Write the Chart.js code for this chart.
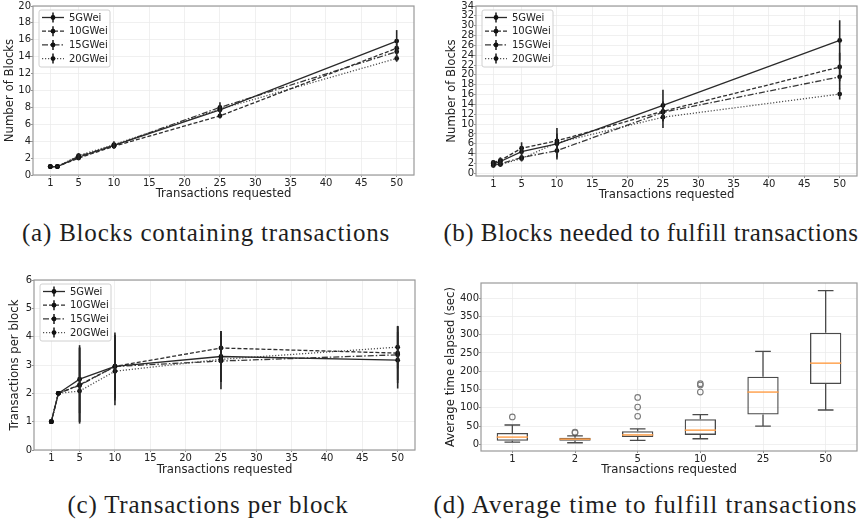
<!DOCTYPE html>
<html>
<head>
<meta charset="utf-8">
<script src="https://cdn.jsdelivr.net/npm/chart.js@4.4.0/dist/chart.umd.min.js"></script>
<style>
  body { margin: 0; background: #fff; width: 863px; height: 521px; overflow: hidden; position: relative; }
  canvas { position: absolute; }
  .cap { position: absolute; font-family: "Liberation Serif", serif; font-size: 25px; color: #1e1e1e;
         white-space: nowrap; text-align: center; line-height: 30px; letter-spacing: 0.8px; }
</style>
</head>
<body>
<canvas id="chartA" width="430" height="202" style="left:0;top:0"></canvas>
<canvas id="chartB" width="433" height="202" style="left:430px;top:0"></canvas>
<canvas id="chartC" width="430" height="216" style="left:0;top:262px"></canvas>
<canvas id="chartD" width="433" height="216" style="left:430px;top:262px"></canvas>
<div class="cap" style="left:6px;width:400px;top:218px">(a) Blocks containing transactions</div>
<div class="cap" style="left:440px;width:422px;top:218px;letter-spacing:0.45px">(b) Blocks needed to fulfill transactions</div>
<div class="cap" style="left:8px;width:400px;top:490px">(c) Transactions per block</div>
<div class="cap" style="left:433px;width:425px;top:490px;letter-spacing:1.05px">(d) Average time to fulfill transactions</div>
<script>
// Gas price experiments - four panels

const xValues = [1, 2, 5, 10, 25, 50];
const seriesNames = ['5GWei', '10GWei', '15GWei', '20GWei'];
const xTicks = [1, 5, 10, 15, 20, 25, 30, 35, 40, 45, 50];

// (a) blocks containing transactions
const containing5 = [1, 1, 2.1, 3.5, 7.7, 15.85];
const containing10 = [1, 1, 2.0, 3.4, 7.0, 15.0];
const containing15 = [1, 1, 2.2, 3.5, 8.0, 14.6];
const containing20 = [1, 1, 2.3, 3.6, 7.8, 13.8];
const containing5Err = [0.05, 0.05, 0.3, 0.3, 0.5, 1.3];
const containing10Err = [0.05, 0.05, 0.2, 0.3, 0.3, 0.6];
const containing15Err = [0.05, 0.05, 0.3, 0.3, 0.6, 0.5];
const containing20Err = [0.05, 0.05, 0.3, 0.4, 0.5, 0.4];
const containingTicks = [0, 2, 4, 6, 8, 10, 12, 14, 16, 18, 20];

// (b) blocks needed to fulfill transactions
const needed5 = [1.9, 2.4, 4.4, 6.0, 13.8, 27.0];
const needed10 = [2.2, 2.6, 5.1, 6.6, 12.6, 21.6];
const needed15 = [1.6, 1.9, 3.2, 4.6, 12.4, 19.6];
const needed20 = [2.0, 1.8, 3.0, 6.2, 11.4, 16.1];
const needed5Err = [0.7, 0.8, 1.0, 3.2, 3.2, 4.1];
const needed10Err = [0.5, 0.6, 1.2, 1.5, 2.0, 2.9];
const needed15Err = [0.4, 0.5, 0.6, 1.4, 1.5, 2.5];
const needed20Err = [0.4, 0.5, 0.6, 1.2, 2.2, 1.1];
const neededTicks = [0, 2, 4, 6, 8, 10, 12, 14, 16, 18, 20, 22, 24, 26, 28, 30, 32, 34];

// (c) transactions per block
const perBlock5 = [1, 2, 2.5, 2.95, 3.3, 3.17];
const perBlock10 = [1, 2, 2.3, 2.95, 3.6, 3.42];
const perBlock15 = [1, 2, 2.28, 2.95, 3.14, 3.36];
const perBlock20 = [1, 2, 2.08, 2.78, 3.2, 3.63];
const perBlock5Err = [0, 0, 1.2, 1.12, 0.9, 1.0];
const perBlock10Err = [0, 0, 1.3, 1.1, 0.6, 0.95];
const perBlock15Err = [0, 0, 1.35, 1.2, 1.0, 1.0];
const perBlock20Err = [0, 0, 1.1, 1.2, 0.8, 0.75];
const perBlockTicks = [0, 1, 2, 3, 4, 5, 6];

// (d) average time elapsed, box plot per request size
const boxLabels = ['1', '2', '5', '10', '25', '50'];
const boxQ1 = [10, 10, 20, 26, 81.5, 165];
const boxMedian = [20, 14.5, 26, 39, 143, 222];
const boxQ3 = [31.5, 18, 36, 69, 185, 305];
const whiskerLow = [6, 4.5, 11, 15.5, 50, 94];
const whiskerHigh = [53, 23.5, 42.5, 81.5, 254, 420];
const outlierGroups = [[75], [33.5, 32], [128.5, 102, 77], [166, 162, 143], [], []];
const timeTicks = [0, 50, 100, 150, 200, 250, 300, 350, 400];

Chart.defaults.font.family = '"DejaVu Sans", sans-serif';
Chart.defaults.color = '#222';

const lineStyles = [
    { dash: [], color: '#2a2a2a' },
    { dash: [4, 2], color: '#2e2e2e' },
    { dash: [6, 2, 1.5, 2], color: '#383838' },
    { dash: [1.2, 1.8], color: '#505050' }
];

function makeDatasets(seriesValues, seriesErrors) {
    return seriesValues.map((vals, i) => ({
        label: seriesNames[i],
        data: xValues.map((x, j) => ({ x: x, y: vals[j], err: seriesErrors[i][j] })),
        borderColor: lineStyles[i].color,
        borderDash: lineStyles[i].dash,
        borderWidth: 1.3,
        pointRadius: 2.4,
        pointBackgroundColor: '#111',
        pointBorderColor: '#111',
        pointBorderWidth: 0,
        tension: 0,
        fill: false
    }));
}

// Error bars, frame and a matplotlib-like legend
const mplPlugin = {
    id: 'mpl',
    afterDatasetsDraw(chart) {
        const ctx = chart.ctx;
        const yScale = chart.scales.y;
        chart.data.datasets.forEach((ds, i) => {
            const meta = chart.getDatasetMeta(i);
            meta.data.forEach((pt, j) => {
                const d = ds.data[j];
                if (d.err === undefined || d.err <= 0) return;
                ctx.save();
                ctx.strokeStyle = '#262626';
                ctx.lineWidth = 1.6;
                ctx.beginPath();
                ctx.moveTo(pt.x, yScale.getPixelForValue(d.y - d.err));
                ctx.lineTo(pt.x, yScale.getPixelForValue(d.y + d.err));
                ctx.stroke();
                ctx.restore();
            });
        });
    },
    afterDraw(chart) {
        const ctx = chart.ctx;
        const a = chart.chartArea;
        ctx.save();
        ctx.strokeStyle = '#9a9a9a';
        ctx.lineWidth = 1.2;
        ctx.strokeRect(a.left, a.top, a.right - a.left, a.bottom - a.top);
        ctx.restore();

        const cfg = chart.options.plugins.mplLegend;
        if (!cfg) return;
        const x0 = a.left + cfg.dx;
        const y0 = a.top + cfg.dy;
        ctx.save();
        ctx.fillStyle = 'rgba(255,255,255,0.85)';
        ctx.strokeStyle = '#d0d0d0';
        ctx.lineWidth = 1;
        ctx.beginPath();
        ctx.roundRect(x0, y0, 71, 57, 2);
        ctx.fill();
        ctx.stroke();
        chart.data.datasets.forEach((ds, i) => {
            const y = y0 + 7.5 + i * 13.7;
            ctx.strokeStyle = ds.borderColor;
            ctx.lineWidth = 1.3;
            ctx.setLineDash(ds.borderDash);
            ctx.beginPath();
            ctx.moveTo(x0 + 3, y);
            ctx.lineTo(x0 + 25, y);
            ctx.stroke();
            ctx.setLineDash([]);
            ctx.strokeStyle = '#262626';
            ctx.lineWidth = 1.6;
            ctx.beginPath();
            ctx.moveTo(x0 + 14, y - 5);
            ctx.lineTo(x0 + 14, y + 5);
            ctx.stroke();
            ctx.fillStyle = '#111';
            ctx.beginPath();
            ctx.arc(x0 + 14, y, 2.4, 0, Math.PI * 2);
            ctx.fill();
            ctx.fillStyle = '#222';
            ctx.font = '10px "DejaVu Sans"';
            ctx.textBaseline = 'middle';
            ctx.fillText(ds.label, x0 + 30, y + 0.5);
        });
        ctx.restore();
    }
};

function xAxisOptions(height, titlePadBottom, tickGap) {
    return {
        type: 'linear',
        min: -1.45,
        max: 52.45,
        afterBuildTicks: s => { s.ticks = xTicks.map(v => ({ value: v })); },
        afterFit: s => { s.height = height; },
        grid: { color: '#ececec', lineWidth: 0.8, tickLength: 2, tickColor: '#777' },
        border: { display: false },
        ticks: { font: { size: 10 }, padding: tickGap, autoSkip: false, maxRotation: 0 },
        title: { display: true, text: 'Transactions requested', font: { size: 11.7 },
                 padding: { top: 0, bottom: titlePadBottom } }
    };
}

function yAxisOptions(width, min, max, ticks, title, titlePad) {
    return {
        min: min,
        max: max,
        afterBuildTicks: s => { s.ticks = ticks.map(v => ({ value: v })); },
        afterFit: s => { s.width = width; },
        grid: { color: '#ececec', lineWidth: 0.8, tickLength: 2, tickColor: '#777' },
        border: { display: false },
        ticks: { font: { size: 10 }, padding: 0, autoSkip: false },
        title: { display: true, text: title, font: { size: 11.7 }, padding: { top: titlePad, bottom: 0 } }
    };
}

function lineChart(id, datasets, layoutPad, xOpts, yOpts) {
    return new Chart(document.getElementById(id), {
        type: 'line',
        data: { datasets: datasets },
        options: {
            responsive: false,
            animation: false,
            events: [],
            layout: { padding: layoutPad },
            plugins: {
                legend: { display: false },
                tooltip: { enabled: false },
                mplLegend: { dx: 6, dy: 4 }
            },
            scales: { x: xOpts, y: yOpts }
        },
        plugins: [mplPlugin]
    });
}

lineChart('chartA',
    makeDatasets([containing5, containing10, containing15, containing20],
                 [containing5Err, containing10Err, containing15Err, containing20Err]),
    { left: 0, right: 16, top: 6, bottom: 0 },
    xAxisOptions(27, 1, 0),
    yAxisOptions(33, 0, 20, containingTicks, 'Number of Blocks', 3));

lineChart('chartB',
    makeDatasets([needed5, needed10, needed15, needed20],
                 [needed5Err, needed10Err, needed15Err, needed20Err]),
    { left: 0, right: 6, top: 6, bottom: 0 },
    xAxisOptions(26, 0, 0),
    yAxisOptions(46, -0.55, 34, neededTicks, 'Number of Blocks', 15));

lineChart('chartC',
    makeDatasets([perBlock5, perBlock10, perBlock15, perBlock20],
                 [perBlock5Err, perBlock10Err, perBlock15Err, perBlock20Err]),
    { left: 0, right: 15, top: 18, bottom: 0 },
    xAxisOptions(28, 1, 0),
    yAxisOptions(34, 0, 6, perBlockTicks, 'Transactions per block', 8));

// Box plot: boxes as floating bars, whiskers and medians drawn on top
const boxPlugin = {
    id: 'boxWhiskers',
    afterDatasetsDraw(chart) {
        const ctx = chart.ctx;
        const yScale = chart.scales.y;
        const meta = chart.getDatasetMeta(0);
        meta.data.forEach((bar, i) => {
            const x = bar.x;
            const half = bar.width / 2;
            const cap = half / 2;
            ctx.save();
            ctx.strokeStyle = '#4a4a4a';
            ctx.lineWidth = 1.3;
            ctx.beginPath();
            ctx.moveTo(x, yScale.getPixelForValue(boxQ3[i]));
            ctx.lineTo(x, yScale.getPixelForValue(whiskerHigh[i]));
            ctx.moveTo(x, yScale.getPixelForValue(boxQ1[i]));
            ctx.lineTo(x, yScale.getPixelForValue(whiskerLow[i]));
            ctx.moveTo(x - cap, yScale.getPixelForValue(whiskerHigh[i]));
            ctx.lineTo(x + cap, yScale.getPixelForValue(whiskerHigh[i]));
            ctx.moveTo(x - cap, yScale.getPixelForValue(whiskerLow[i]));
            ctx.lineTo(x + cap, yScale.getPixelForValue(whiskerLow[i]));
            ctx.stroke();
            ctx.strokeStyle = '#ff9d45';
            ctx.lineWidth = 1.4;
            ctx.beginPath();
            ctx.moveTo(x - half, yScale.getPixelForValue(boxMedian[i]));
            ctx.lineTo(x + half, yScale.getPixelForValue(boxMedian[i]));
            ctx.stroke();
            ctx.restore();
        });
    },
    afterDraw(chart) {
        const ctx = chart.ctx;
        const a = chart.chartArea;
        ctx.save();
        ctx.strokeStyle = '#9a9a9a';
        ctx.lineWidth = 1.2;
        ctx.strokeRect(a.left, a.top, a.right - a.left, a.bottom - a.top);
        ctx.restore();
    }
};

const outlierPoints = [];
outlierGroups.forEach((group, i) => {
    group.forEach(v => outlierPoints.push({ x: boxLabels[i], y: v }));
});

new Chart(document.getElementById('chartD'), {
    type: 'bar',
    data: {
        labels: boxLabels,
        datasets: [
            {
                data: boxLabels.map((_, i) => [boxQ1[i], boxQ3[i]]),
                backgroundColor: 'rgba(0,0,0,0)',
                borderColor: '#4a4a4a',
                borderWidth: 1.3,
                borderSkipped: false,
                barPercentage: 0.5,
                categoryPercentage: 1
            },
            {
                type: 'line',
                data: outlierPoints,
                showLine: false,
                pointRadius: 2.8,
                pointBackgroundColor: 'rgba(0,0,0,0)',
                pointBorderColor: '#7a7a7a',
                pointBorderWidth: 1.1
            }
        ]
    },
    options: {
        responsive: false,
        animation: false,
        events: [],
        layout: { padding: { left: 0, right: 6, top: 21, bottom: 0 } },
        plugins: { legend: { display: false }, tooltip: { enabled: false } },
        scales: {
            x: {
                type: 'category',
                offset: true,
                afterFit: s => { s.height = 27; },
                grid: { color: '#ececec', lineWidth: 0.8, tickLength: 2, tickColor: '#777', offset: false },
                border: { display: false },
                ticks: { font: { size: 10 }, padding: 0, maxRotation: 0 },
                title: { display: true, text: 'Transactions requested', font: { size: 11.7 },
                         padding: { top: 0, bottom: 1 } }
            },
            y: yAxisOptions(51, -18, 441, timeTicks, 'Average time elapsed (sec)', 14)
        }
    },
    plugins: [boxPlugin]
});
</script>
</body>
</html>
